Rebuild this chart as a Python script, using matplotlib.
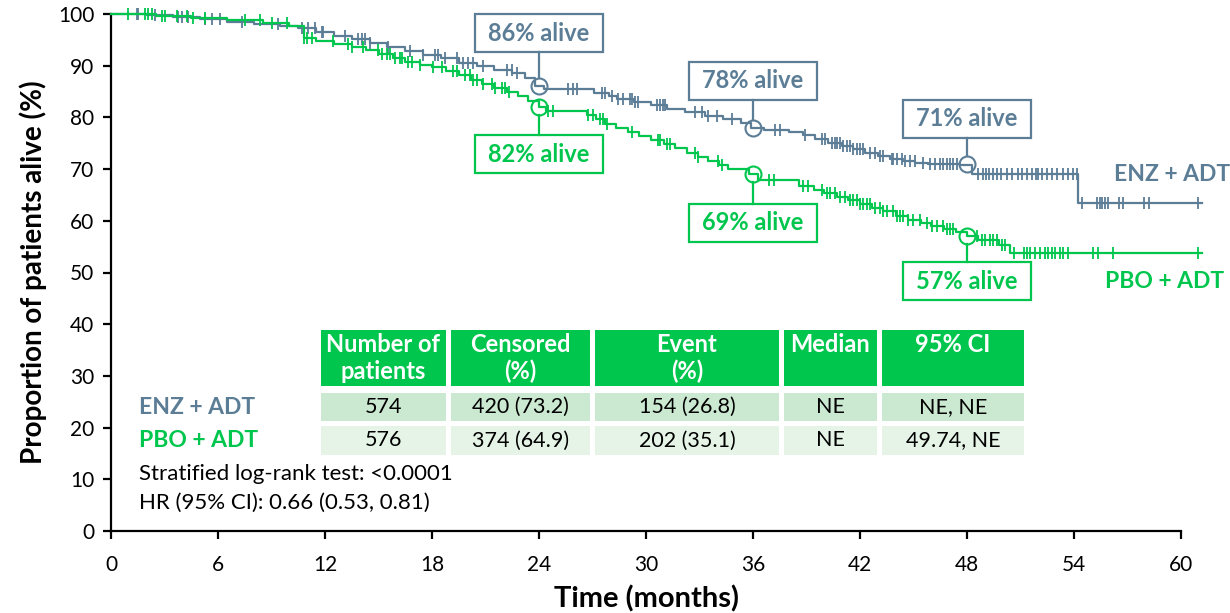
"""Kaplan-Meier overall survival, ENZ + ADT vs PBO + ADT."""

import matplotlib.pyplot as plt
import matplotlib.transforms as mtransforms
import numpy as np
from matplotlib.patches import Rectangle

plt.rcParams['font.family'] = ['Lato', 'DejaVu Sans']

ENZ_COLOR = '#5B7D96'
PBO_COLOR = '#00C64E'
HEAD_GREEN = '#00C64E'
ROW1_BG = '#CBE8D1'
ROW2_BG = '#E6F4E8'

# step curves: event time (months) and survival (%) after the step
enz_time = [0, 2.0, 3.5, 5.0, 6.5, 8.0, 9.5, 10.5, 11.5, 12.5, 13.5, 14.5, 15.5,
            16.5, 17.5, 18.5, 19.5, 20.5, 21.5, 22.5, 23.2, 23.8, 24.3, 27.1, 27.9,
            28.4, 29.3, 30.3, 31.2, 32.2, 33.3, 34.3, 35.3, 35.9, 36.6, 38.0, 38.8,
            39.5, 40.2, 41.0, 41.6, 42.3, 43.0, 43.7, 44.4, 45.1, 45.8, 47.6, 48.3,
            54.25, 61.2]
enz_surv = [100, 99.8, 99.4, 99.0, 98.5, 98.1, 97.6, 97.2, 96.6, 95.8, 95.2, 94.4,
            93.7, 92.9, 92.1, 91.4, 90.6, 89.9, 89.2, 88.5, 87.7, 86.0, 85.4, 84.8,
            84.2, 83.6, 83.0, 82.4, 81.7, 81.0, 80.3, 79.6, 79.0, 78.0, 77.6, 77.2,
            76.5, 75.8, 75.1, 74.5, 73.9, 73.2, 72.6, 72.0, 71.5, 71.2, 71.0, 70.8,
            69.1, 63.5, 63.5]
enz_censor = [1.44, 1.53, 2.47, 3.78, 3.97, 4.34, 5.27, 5.65, 6.11, 7.33, 9.38, 10.70,
              11.07, 11.44, 11.82, 11.91, 13.12, 13.87, 14.06, 14.25, 14.52, 15.55,
              16.77, 17.52, 18.17, 18.36, 18.73, 19.39, 19.76, 20.04, 20.32, 20.88,
              22.19, 22.47, 22.75, 25.65, 25.93, 26.12, 27.52, 27.71, 28.08, 28.45,
              28.73, 29.11, 29.20, 29.39, 29.57, 30.60, 30.79, 30.98, 31.07, 32.75,
              33.13, 33.50, 33.97, 34.81, 37.24, 37.52, 38.92, 39.86, 40.05, 40.42,
              40.61, 40.70, 40.89, 41.07, 41.26, 41.45, 41.63, 41.82, 42.01, 42.19,
              42.57, 42.85, 43.13, 43.31, 43.78, 43.87, 44.06, 44.34, 44.53, 44.81,
              45.09, 45.56, 45.93, 46.21, 46.49, 46.67, 46.86, 47.05, 47.24, 47.43,
              48.64, 48.89, 49.08, 49.25, 49.47, 49.69, 49.90, 50.24, 50.52, 50.88,
              51.08, 51.36, 51.64, 51.88, 51.99, 52.20, 52.48, 52.76, 53.04, 53.39,
              53.67, 53.95, 54.16, 54.44, 55.28, 55.47, 55.56, 55.75, 55.93, 56.50,
              56.74, 57.90, 58.18, 60.98]

pbo_time = [0, 2.5, 4.5, 6.5, 8.5, 10.0, 10.8, 11.5, 12.5, 13.5, 14.3, 15.0, 15.8,
            16.5, 17.3, 18.0, 18.8, 19.5, 20.2, 20.8, 21.5, 22.2, 22.8, 23.4, 24.0,
            24.4, 26.7, 27.2, 27.7, 28.3, 29.0, 29.6, 30.3, 31.0, 31.6, 32.3, 32.9,
            33.5, 34.1, 34.6, 35.8, 36.3, 38.6, 39.4, 40.0, 40.7, 41.3, 42.0, 42.7,
            43.3, 44.0, 44.7, 45.4, 46.0, 46.7, 47.4, 48.0, 48.6, 49.8, 50.4, 61.2]
pbo_surv = [100, 99.6, 99.2, 98.8, 98.3, 97.6, 95.3, 94.8, 94.2, 93.7, 93.0, 92.3,
            91.5, 90.8, 90.2, 89.7, 89.0, 88.2, 87.3, 86.5, 85.7, 84.9, 84.1, 83.2,
            82.0, 81.2, 80.4, 79.6, 78.8, 78.0, 77.2, 76.4, 75.6, 74.8, 74.0, 73.2,
            72.4, 71.6, 70.8, 70.0, 69.0, 67.9, 66.8, 66.0, 65.3, 64.6, 64.0, 63.3,
            62.5, 61.8, 61.0, 60.2, 59.5, 58.9, 58.4, 57.8, 57.0, 56.3, 55.3, 53.8,
            53.8]
pbo_censor = [0.97, 1.91, 2.09, 2.28, 2.84, 3.03, 3.68, 4.25, 4.62, 5.27, 7.52, 8.36,
              9.01, 9.85, 10.85, 11.0, 11.26, 12.47, 13.31, 13.50, 14.15, 14.99, 15.18,
              15.46, 15.65, 15.93, 16.21, 16.30, 16.67, 16.86, 17.33, 18.07, 18.54,
              19.20, 19.39, 19.85, 20.13, 20.32, 20.51, 20.88, 21.35, 21.54, 21.91,
              22.10, 22.29, 24.53, 24.81, 26.77, 27.05, 27.43, 27.61, 27.80, 29.20,
              30.70, 30.79, 31.17, 31.35, 32.75, 32.94, 34.06, 34.25, 36.87, 37.15,
              38.83, 39.11, 39.86, 40.14, 40.33, 40.61, 40.89, 41.17, 41.45, 41.63,
              41.82, 42.01, 42.19, 42.38, 42.57, 42.85, 43.13, 43.31, 43.50, 43.87,
              44.06, 44.25, 44.43, 44.71, 44.99, 45.37, 45.74, 46.02, 46.30, 46.67,
              46.86, 47.05, 47.24, 48.55, 48.83, 49.02, 49.30, 49.48, 49.67, 49.95,
              50.13, 50.61, 51.17, 51.36, 51.54, 51.82, 52.10, 52.38, 52.57, 52.76,
              52.95, 53.23, 53.41, 53.69, 55.09, 55.37, 56.21, 60.98]

landmark_months = [24, 36, 48]
enz_landmark = [86, 78, 71]
pbo_landmark = [82, 69, 57]

table_columns = ["Number of\npatients", "Censored\n(%)", "Event\n(%)", "Median", "95% CI"]
table_rows = ["ENZ + ADT", "PBO + ADT"]
table_cells = [["574", "420 (73.2)", "154 (26.8)", "NE", "NE, NE"],
               ["576", "374 (64.9)", "202 (35.1)", "NE", "49.74, NE"]]
stats_lines = ["Stratified log-rank test: <0.0001", "HR (95% CI): 0.66 (0.53, 0.81)"]


def surv_at(times, surv, t):
    idx = np.searchsorted(times, t, side='right') - 1
    return np.asarray(surv)[idx]


fig = plt.figure(figsize=(12.3, 6.13), dpi=100)
ax = fig.add_axes([111 / 1230, 82 / 613, 1070 / 1230, 517 / 613])
# pixel coordinates, origin at top-left of the figure
tpx = mtransforms.Affine2D().scale(1 / 1230, -1 / 613).translate(0, 1) + fig.transFigure

arms = [
    (enz_time, enz_surv, enz_censor, enz_landmark, ENZ_COLOR, [10.3, 9.1, 8.7]),
    (pbo_time, pbo_surv, pbo_censor, pbo_landmark, PBO_COLOR, [-9.1, -9.4, -8.7]),
]
circle_r = 1.55
box_w, box_h = 7.2, 7.35
for times, surv, censor, marks, color, offsets in arms:
    ax.step(times, surv, where='post', color=color, lw=1.6, clip_on=False, zorder=3)
    ax.plot(censor, surv_at(times, surv, censor), ls='none', marker='|', ms=8,
            mew=1.3, color=color, clip_on=False, zorder=3)
    ax.plot(landmark_months, marks, ls='none', marker='o', ms=11.5, mfc='none',
            mec=color, mew=1.5, clip_on=False, zorder=5)
    for m, v, dy in zip(landmark_months, marks, offsets):
        cy = v + dy
        ax.add_patch(Rectangle((m - box_w / 2, cy - box_h / 2), box_w, box_h,
                               facecolor='white', edgecolor=color, lw=1.6,
                               clip_on=False, zorder=4))
        ax.text(m, cy, f"{v}% alive", color=color, fontsize=17, fontweight='bold',
                ha='center', va='center', zorder=6)
        sign = 1 if dy > 0 else -1
        ax.plot([m, m], [cy - sign * box_h / 2, v + sign * circle_r], color=color,
                lw=1.6, clip_on=False, zorder=4)

ax.text(62.75, 69.0, "ENZ + ADT", color=ENZ_COLOR, fontsize=16.5, fontweight='bold',
        ha='right', va='center')
ax.text(62.4, 48.2, "PBO + ADT", color=PBO_COLOR, fontsize=16.5, fontweight='bold',
        ha='right', va='center')

ax.set_xlim(0, 60)
ax.set_ylim(0, 100)
ax.set_xticks(np.arange(0, 61, 6))
ax.set_yticks(np.arange(0, 101, 10))
for side in ['top', 'right']:
    ax.spines[side].set_visible(False)
for side in ['left', 'bottom']:
    ax.spines[side].set_linewidth(1.6)
ax.tick_params(direction='out', length=6, width=1.6, labelsize=15)
ax.tick_params(axis='x', pad=11)
ax.tick_params(axis='y', pad=6)
ax.set_xlabel("Time (months)", fontsize=21, fontweight='bold', labelpad=8)
ax.set_ylabel("Proportion of patients alive (%)", fontsize=20, fontweight='bold',
              labelpad=8)

# summary table
col_edges = [(321, 446), (451, 590), (595, 779), (784, 877), (882, 1024)]
head_y = (330, 386)
row_y = [(393, 421), (426, 455)]
row_bg = [ROW1_BG, ROW2_BG]
row_colors = [ENZ_COLOR, PBO_COLOR]
for (x0, x1), label in zip(col_edges, table_columns):
    fig.patches.append(Rectangle((x0, head_y[0]), x1 - x0, head_y[1] - head_y[0],
                                 facecolor=HEAD_GREEN, edgecolor='none', transform=tpx))
    fig.text((x0 + x1) / 2, head_y[0] + 3, label, transform=tpx, color='white',
             fontsize=17, fontweight='bold', ha='center', va='top', linespacing=1.2)
for (y0, y1), bg, name, color, cells in zip(row_y, row_bg, table_rows, row_colors,
                                            table_cells):
    fig.text(139, (y0 + y1) / 2, name, transform=tpx, color=color, fontsize=16.5,
             fontweight='bold', ha='left', va='center')
    for (x0, x1), val in zip(col_edges, cells):
        fig.patches.append(Rectangle((x0, y0), x1 - x0, y1 - y0, facecolor=bg,
                                     edgecolor='none', transform=tpx))
        fig.text((x0 + x1) / 2, (y0 + y1) / 2, val, transform=tpx, color='black',
                 fontsize=15.5, ha='center', va='center')

for y, line in zip([474, 503], stats_lines):
    fig.text(139, y, line, transform=tpx, color='black', fontsize=16,
             ha='left', va='center')

fig.savefig('out.png', dpi=100)
